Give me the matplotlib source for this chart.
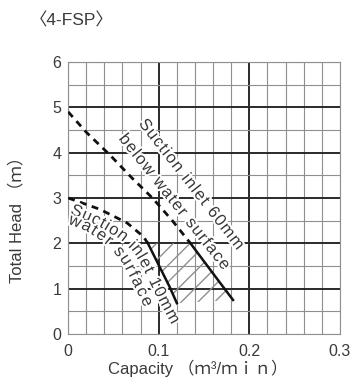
import numpy as np
import matplotlib
matplotlib.use("Agg")
import matplotlib.pyplot as plt
import matplotlib.patheffects as pe
from matplotlib.font_manager import FontProperties

plt.rcParams['font.family'] = ['Liberation Sans', 'Noto Sans CJK JP', 'DejaVu Sans']

# curve data (capacity m3/min, head m)
q60_dash = [0.0, 0.02, 0.046, 0.07, 0.093, 0.115, 0.135]
h60_dash = [4.9, 4.45, 3.95, 3.45, 3.0, 2.5, 2.0]
q60_solid = [0.135, 0.15, 0.165, 0.182]
h60_solid = [2.0, 1.6, 1.2, 0.75]

q10_dash = [0.0, 0.035, 0.065, 0.083, 0.088]
h10_dash = [3.0, 2.75, 2.45, 2.15, 2.0]
q10_solid = [0.088, 0.101, 0.112, 0.12]
h10_solid = [2.0, 1.48, 1.04, 0.68]

x_ticks = [0, 0.1, 0.2, 0.3]
x_labels = ['0', '0.1', '0.2', '0.3']
y_ticks = [0, 1, 2, 3, 4, 5, 6]

W, H = 353, 387
tc = '#3a3a3a'

fig = plt.figure(figsize=(W / 100, H / 100), dpi=100)
ax = fig.add_axes([0.193, 0.137, 0.77, 0.703])
ax.set_xlim(0, 0.3)
ax.set_ylim(0, 6)

# grid
for xv in np.arange(0, 0.3001, 0.02):
    major = abs(round(xv / 0.1) * 0.1 - xv) < 1e-9 and 0 < xv < 0.3
    ax.axvline(xv, color='#2a2a2a' if major else '#8f8f8f',
               lw=1.4 if major else 0.8, zorder=1)
for yv in np.arange(0, 6.001, 0.5):
    major = abs(yv - round(yv)) < 1e-9 and 0 < yv < 6
    ax.axhline(yv, color='#2a2a2a' if major else '#8f8f8f',
               lw=1.4 if major else 0.8, zorder=1)

# hatched operating region
poly_x = list(q10_solid) + list(q60_solid[::-1])
poly_y = list(h10_solid) + list(h60_solid[::-1])
ax.fill(poly_x, poly_y, facecolor='none', edgecolor='#8f8f8f', hatch='//',
        lw=0, zorder=2)

for q, h in [(q60_dash, h60_dash), (q10_dash, h10_dash)]:
    ax.plot(q, h, color='#111111', lw=2, ls=(0, (2.5, 2)), zorder=3)
for q, h in [(q60_solid, h60_solid), (q10_solid, h10_solid)]:
    ax.plot(q, h, color='#111111', lw=1.8, zorder=3)


def text_along(text, path_px, size=12):
    """Lay text out char by char along a polyline given in image pixels."""
    renderer = fig.canvas.get_renderer()
    fp = FontProperties(family=['Liberation Sans'], size=size)
    pts = np.array(path_px, float)
    seg = np.hypot(*np.diff(pts, axis=0).T)
    s = np.concatenate([[0], np.cumsum(seg)])
    widths = [renderer.get_text_width_height_descent(c, fp, ismath=False)[0]
              for c in text]
    extra = (s[-1] - sum(widths)) / (len(text) - 1)
    pos = 0.0
    for c, w in zip(text, widths):
        mid = pos + w / 2
        x = np.interp(mid, s, pts[:, 0])
        y = np.interp(mid, s, pts[:, 1])
        xa = np.interp(mid - 8, s, pts[:, 0]); ya = np.interp(mid - 8, s, pts[:, 1])
        xb = np.interp(mid + 8, s, pts[:, 0]); yb = np.interp(mid + 8, s, pts[:, 1])
        ang = np.degrees(np.arctan2(-(yb - ya), xb - xa))
        fig.text(x / W, 1 - y / H, c, fontproperties=fp, color=tc,
                 rotation=ang, rotation_mode='anchor', ha='center',
                 va='center_baseline', zorder=5,
                 path_effects=[pe.withStroke(linewidth=3, foreground='white')])
        pos += w + extra


text_along('Suction inlet 60mm', [(143, 120), (242, 247)])
text_along('below water surface', [(123, 135), (228, 267)])
text_along('Suction inlet 10mm',
           [(72, 208), (100, 220), (123, 234), (138, 248), (148, 265),
            (160, 290), (177, 322)])
text_along('water surface',
           [(70, 218), (90, 226), (105, 236), (115, 244), (127, 259),
            (137, 278), (150, 305)])

for s in ax.spines.values():
    s.set_color('#8f8f8f')
    s.set_linewidth(0.8)

ax.set_xticks(x_ticks)
ax.set_xticklabels(x_labels)
ax.set_yticks(y_ticks)
ax.tick_params(length=0, labelsize=11.5, colors=tc)
ax.tick_params(axis='x', pad=7)
ax.tick_params(axis='y', pad=5)

ax.set_xlabel('Capacity （ｍ³/ｍｉｎ）', fontsize=12, color=tc,
              ha='center', va='center')
ax.xaxis.set_label_coords(0.478, -0.126)
ax.set_ylabel('Total Head （ｍ）', fontsize=12, color=tc,
              ha='center', va='center')
ax.yaxis.set_label_coords(-0.19, 0.434)

fig.text(0.085, 0.948, '〈4-FSP〉', fontsize=12.5, color=tc,
         ha='left', va='center')

fig.savefig('out.png', dpi=100)
